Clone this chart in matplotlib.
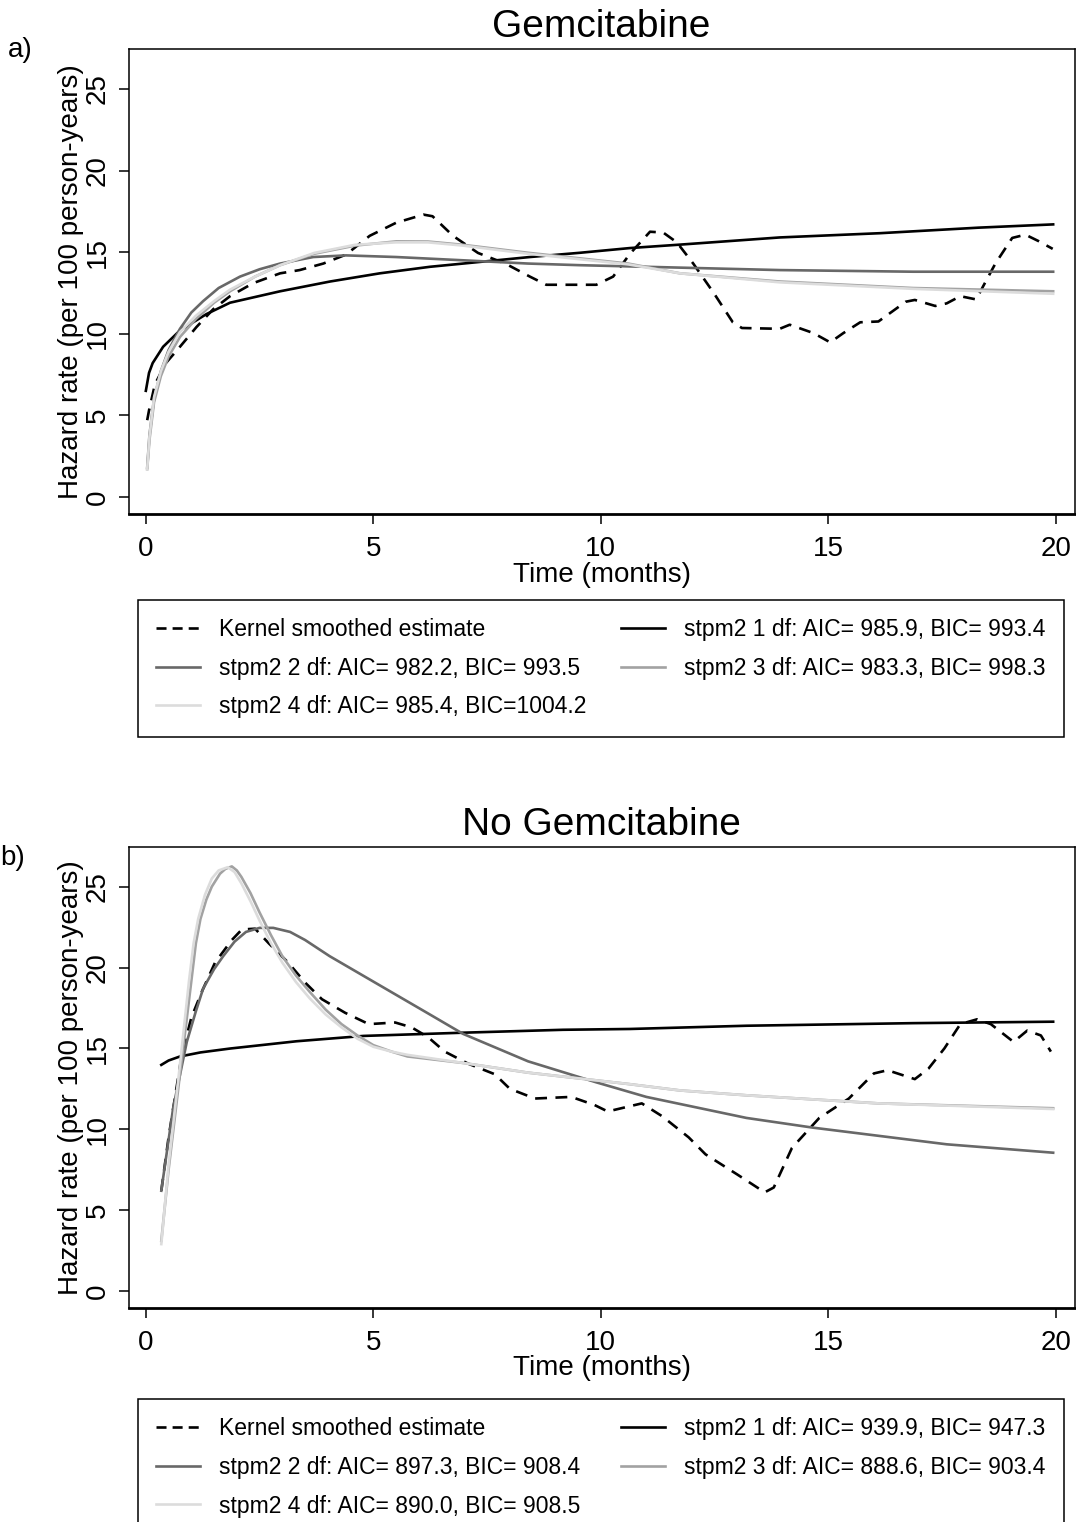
import matplotlib
matplotlib.use('Agg')
import matplotlib.pyplot as plt
from matplotlib.lines import Line2D

plt.rcParams['font.family'] = ['Liberation Sans', 'DejaVu Sans']

# ---- panel a: Gemcitabine ----
a_kernel_t = [0.03, 0.07, 0.2, 0.44, 0.75, 1.11, 1.48, 1.85, 2.36, 2.95, 3.38, 3.9, 4.4,
              4.92, 5.5, 6.1, 6.3, 6.75, 7.3, 7.9, 8.44, 8.8, 9.17, 9.9, 10.27, 10.64,
              11.08, 11.37, 11.67, 12.03, 12.48, 12.9, 13.1, 13.93, 14.15, 14.67, 15.04,
              15.33, 15.7, 16.1, 16.7, 16.9, 17.35, 17.6, 17.9, 18.25, 18.4, 18.67, 19.04,
              19.33, 19.63, 19.93]
a_kernel_h = [4.7, 5.3, 6.9, 8.2, 9.2, 10.4, 11.5, 12.3, 13.1, 13.7, 13.9, 14.3, 14.85,
              16.0, 16.8, 17.3, 17.2, 16.0, 14.95, 14.3, 13.5, 13.0, 13.0, 13.0, 13.5, 14.9,
              16.25, 16.2, 15.6, 14.3, 12.5, 10.7, 10.35, 10.3, 10.55, 10.04, 9.47,
              10.04, 10.7, 10.75, 11.96, 12.07, 11.7, 11.86, 12.3, 12.1, 12.9, 14.3, 15.87,
              16.07, 15.66, 15.2]

a_df1_t = [0.0, 0.07, 0.15, 0.38, 0.75, 1.33, 1.85, 2.95, 4.05, 5.14, 6.24, 7.34, 8.44,
           9.54, 10.64, 11.74, 13.93, 16.13, 18.3, 19.94]
a_df1_h = [6.5, 7.6, 8.2, 9.2, 10.2, 11.2, 11.9, 12.6, 13.2, 13.7, 14.1, 14.4, 14.7,
           14.96, 15.25, 15.46, 15.9, 16.16, 16.5, 16.7]

a_df2_t = [0.03, 0.08, 0.18, 0.33, 0.5, 0.75, 1.0, 1.26, 1.6, 2.07, 2.5, 2.95, 3.68,
           4.4, 5.5, 6.97, 8.4, 9.54, 11.74, 13.93, 16.86, 19.94]
a_df2_h = [1.8, 3.8, 6.0, 7.7, 9.0, 10.3, 11.3, 12.0, 12.8, 13.5, 13.95, 14.3, 14.7,
           14.8, 14.7, 14.5, 14.3, 14.2, 14.05, 13.9, 13.8, 13.8]

a_df3_t = [0.03, 0.08, 0.18, 0.33, 0.5, 0.75, 1.1, 1.5, 1.85, 2.4, 2.95, 3.7, 4.6, 5.5,
           6.2, 6.97, 8.4, 10.6, 11.74, 13.93, 16.86, 19.94]
a_df3_h = [1.7, 3.5, 5.8, 7.4, 8.6, 9.8, 10.9, 11.9, 12.6, 13.5, 14.2, 14.9, 15.4, 15.66,
           15.65, 15.45, 14.96, 14.3, 13.7, 13.2, 12.8, 12.6]

a_df4_t = [0.03, 0.08, 0.18, 0.33, 0.5, 0.75, 1.1, 1.5, 1.85, 2.4, 2.95, 3.7, 4.6, 5.5,
           6.2, 6.97, 8.4, 10.6, 11.74, 13.93, 16.86, 19.94]
a_df4_h = [1.7, 3.7, 6.1, 7.7, 8.9, 10.1, 11.1, 12.0, 12.7, 13.5, 14.2, 14.95, 15.45,
           15.6, 15.6, 15.4, 14.9, 14.25, 13.7, 13.15, 12.75, 12.45]

a_labels = ['Kernel smoothed estimate',
            'stpm2 1 df: AIC= 985.9, BIC= 993.4',
            'stpm2 2 df: AIC= 982.2, BIC= 993.5',
            'stpm2 3 df: AIC= 983.3, BIC= 998.3',
            'stpm2 4 df: AIC= 985.4, BIC=1004.2']

# ---- panel b: No Gemcitabine ----
b_kernel_t = [0.34, 0.5, 0.79, 1.0, 1.23, 1.52, 1.89, 2.11, 2.4, 2.7, 3.13, 3.5, 3.87,
              4.38, 4.9, 5.48, 5.84, 6.2, 6.57, 7.08, 7.67, 8.0, 8.55, 9.35, 9.86, 10.15,
              10.6, 10.9, 11.35, 11.93, 12.3, 13.0, 13.6, 13.8, 14.2, 14.8, 15.45, 16.0,
              16.3, 16.9, 17.2, 17.55, 17.9, 18.27, 18.57, 19.07, 19.37, 19.67, 19.89]
b_kernel_h = [6.2, 9.5, 14.6, 16.9, 18.5, 20.3, 21.7, 22.35, 22.4, 21.5, 20.3, 19.07,
              18.04, 17.2, 16.5, 16.6, 16.3, 15.7, 14.8, 14.06, 13.4, 12.5, 11.9, 12.0,
              11.5, 11.1, 11.4, 11.6, 10.8, 9.5, 8.45, 7.2, 6.1, 6.4, 8.85, 10.7, 11.9,
              13.45, 13.65, 13.1, 13.75, 15.0, 16.5, 16.8, 16.5, 15.4, 16.1, 15.8, 14.8]

b_df1_t = [0.34, 0.5, 0.75, 1.2, 1.85, 3.31, 4.78, 6.97, 9.17, 10.64, 13.2, 16.86, 19.94]
b_df1_h = [13.98, 14.25, 14.5, 14.75, 14.99, 15.44, 15.77, 15.97, 16.15, 16.2, 16.4,
           16.56, 16.65]

b_df2_t = [0.34, 0.6, 0.9, 1.1, 1.26, 1.5, 1.7, 1.95, 2.2, 2.5, 2.8, 3.17, 3.5, 4.04,
           5.14, 6.24, 6.97, 8.4, 9.9, 11.0, 13.2, 14.66, 17.6, 19.94]
b_df2_h = [6.2, 11.3, 15.4, 17.3, 18.7, 19.9, 20.7, 21.6, 22.2, 22.45, 22.45, 22.2, 21.7,
           20.7, 18.9, 17.1, 15.9, 14.2, 12.9, 12.0, 10.7, 10.1, 9.07, 8.55]

b_df3_t = [0.34, 0.5, 0.75, 0.95, 1.1, 1.2, 1.33, 1.45, 1.63, 1.75, 1.89, 2.0, 2.1, 2.3,
           2.5, 2.75, 3.0, 3.3, 3.6, 3.95, 4.3, 4.65, 5.0, 5.4, 5.75, 6.97, 8.4, 10.6,
           11.74, 13.2, 16.1, 19.94]
b_df3_h = [3.1, 7.5, 13.4, 18.0, 21.5, 23.0, 24.2, 25.0, 25.8, 26.1, 26.25, 26.0, 25.6,
           24.6, 23.4, 22.0, 20.7, 19.5, 18.5, 17.4, 16.5, 15.8, 15.2, 14.8, 14.5, 14.1,
           13.5, 12.8, 12.4, 12.1, 11.6, 11.3]

b_df4_t = [0.34, 0.5, 0.75, 0.95, 1.05, 1.15, 1.3, 1.45, 1.6, 1.8, 1.95, 2.1, 2.3, 2.5,
           2.75, 3.0, 3.3, 3.6, 3.95, 4.3, 4.65, 5.0, 5.4, 5.75, 6.97, 8.4, 10.6, 11.74,
           13.2, 16.1, 19.94]
b_df4_h = [2.9, 7.8, 14.0, 19.2, 21.5, 23.0, 24.5, 25.5, 26.0, 26.2, 25.9, 25.2, 24.1,
           22.9, 21.5, 20.3, 19.1, 18.1, 17.1, 16.3, 15.6, 15.1, 14.8, 14.6, 14.1, 13.5,
           12.8, 12.4, 12.1, 11.6, 11.25]

b_labels = ['Kernel smoothed estimate',
            'stpm2 1 df: AIC= 939.9, BIC= 947.3',
            'stpm2 2 df: AIC= 897.3, BIC= 908.4',
            'stpm2 3 df: AIC= 888.6, BIC= 903.4',
            'stpm2 4 df: AIC= 890.0, BIC= 908.5']

x_ticks = [0, 5, 10, 15, 20]
y_ticks = [0, 5, 10, 15, 20, 25]

COLORS = ['black', 'black', '#686868', '#a2a2a2', '#dcdcdc']
STYLES = [(0, (4.5, 3.2)), '-', '-', '-', '-']
LEGEND_STYLES = [(0, (3.8, 2.3)), '-', '-', '-', '-']
LW = 1.9

W, H = 1076, 1522


def draw_panel(fig, top_px, bottom_px, title, panel_tag, series, labels, legend_top_px):
    left_px, right_px = 129, 1075
    ax = fig.add_axes([left_px / W, 1 - bottom_px / H,
                       (right_px - left_px) / W, (bottom_px - top_px) / H])

    for (t, h), c, ls in zip(series, COLORS, STYLES):
        ax.plot(t, h, color=c, linestyle=ls, linewidth=LW)

    ax.set_xlim(-0.37, 20.42)
    ax.set_ylim(-1.05, 27.45)
    ax.set_xticks(x_ticks)
    ax.set_yticks(y_ticks)
    ax.set_yticklabels([str(v) for v in y_ticks], rotation=90, va='center')
    ax.tick_params(axis='both', labelsize=20, length=7, width=1.1, color='black')
    ax.tick_params(axis='x', pad=9)
    ax.tick_params(axis='y', pad=6)

    for side in ['left', 'top', 'right']:
        ax.spines[side].set_linewidth(1.1)
    ax.spines['bottom'].set_linewidth(2.0)

    ax.set_xlabel('Time (months)', fontsize=20, va='center')
    ax.xaxis.set_label_coords(0.5, -(575 - 514) / 465)
    ax.set_ylabel('Hazard rate (per 100 person-years)', fontsize=20, va='center')
    ax.yaxis.set_label_coords((71 - left_px) / (right_px - left_px), 0.5)

    fig.text(601 / W, 1 - (top_px - 22) / H, title, fontsize=28,
             ha='center', va='center')
    fig.text(panel_tag[0] / W, 1 - panel_tag[1] / H, panel_tag[2], fontsize=20,
             ha='left', va='center')

    handles = [Line2D([], [], color=c, linestyle=ls, linewidth=LW)
               for c, ls in zip(COLORS, LEGEND_STYLES)]
    # column-first fill: left column kernel, 2df, 4df ; right column 1df, 3df
    order = [0, 2, 4, 1, 3]
    leg = fig.legend([handles[i] for i in order], [labels[i] for i in order],
                     loc='upper left',
                     bbox_to_anchor=(138 / W, 1 - legend_top_px / H - 0.01,
                                     (1064 - 138) / W, 0.01),
                     mode='expand', ncol=2, fontsize=16.5, frameon=True,
                     fancybox=False, edgecolor='black', framealpha=1,
                     handlelength=1.9, handletextpad=0.85, labelspacing=0.68,
                     borderpad=0.8, borderaxespad=0)
    leg.get_frame().set_linewidth(1.1)
    return ax


fig = plt.figure(figsize=(W / 100, H / 100), dpi=100)

series_a = [(a_kernel_t, a_kernel_h), (a_df1_t, a_df1_h), (a_df2_t, a_df2_h),
            (a_df3_t, a_df3_h), (a_df4_t, a_df4_h)]
series_b = [(b_kernel_t, b_kernel_h), (b_df1_t, b_df1_h), (b_df2_t, b_df2_h),
            (b_df3_t, b_df3_h), (b_df4_t, b_df4_h)]

draw_panel(fig, 49, 514, 'Gemcitabine', (8, 50, 'a)'), series_a, a_labels, 600)
draw_panel(fig, 847, 1308, 'No Gemcitabine', (0, 858, 'b)'), series_b, b_labels, 1399)

fig.savefig('out.png', dpi=100)
